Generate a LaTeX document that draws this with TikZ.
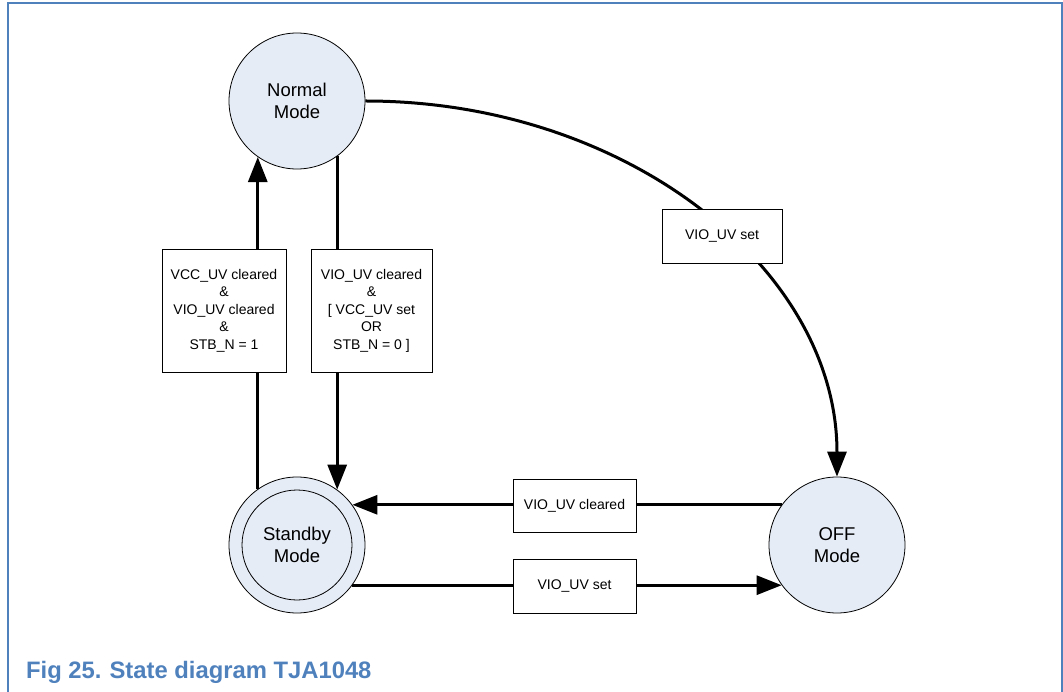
\documentclass[tikz,border=0pt]{standalone}
\usepackage{fontspec}
\setmainfont{Liberation Sans}
\usetikzlibrary{arrows.meta}

\definecolor{figblue}{RGB}{79,129,189}
\definecolor{statefill}{RGB}{230,236,246}

\tikzset{
  state/.style={circle, draw, line width=0.8pt, fill=statefill, minimum size=136pt,
    inner sep=0pt, align=center, font=\fontsize{18.5}{22.5}\selectfont},
  guard/.style={rectangle, draw, line width=0.8pt, fill=white, inner sep=0pt,
    align=center, font=\fontsize{14}{17.5}\selectfont},
  trans/.style={line width=3pt, -{Triangle[length=25pt,width=19pt]}}
}

\begin{document}
\begin{tikzpicture}[x=1pt, y=-1pt]
  \useasboundingbox (0,0) rectangle (1063,692);

  % Draw the frame
  \draw[figblue, line width=2pt] (8,692) -- (8,3) -- (1062,3) -- (1062,692);

  % Draw the states
  \node[state] (normal) at (297,101) {Normal\\Mode};
  \node[state] (standby) at (297,545) {Standby\\Mode};
  \draw[line width=0.8pt] (standby.center) circle (55);
  \node[state] (off) at (837,545) {OFF\\Mode};

  % Draw the transitions
  \draw[trans] (standby.125) -- (normal.235);
  \draw[trans] (normal.306) -- (standby.54);
  \draw[trans] (off.144) -- (standby.36);
  \draw[trans] (standby.324) -- (off.216);
  \draw[trans] (normal.east) .. controls +(261,0) and +(0,-208) .. (off.north);

  % Draw the guard boxes
  \node[guard, minimum width=124pt, minimum height=123pt] (toNormal) at (224,310.5)
    {VCC\_UV cleared\\\&\\VIO\_UV cleared\\\&\\STB\_N = 1};
  \node[guard, minimum width=121pt, minimum height=123pt] (toStandby) at (371.5,310.5)
    {VIO\_UV cleared\\\&\\{[} VCC\_UV set\\OR\\STB\_N = 0 ]};
  \node[guard, minimum width=123pt, minimum height=53pt] (offStandby) at (574.5,505.5)
    {VIO\_UV cleared};
  \node[guard, minimum width=123pt, minimum height=54pt] (standbyOff) at (574.5,586)
    {VIO\_UV set};
  \node[guard, minimum width=120pt, minimum height=54pt] (normalOff) at (722,236)
    {VIO\_UV set};

  % Caption
  \node[anchor=base west, inner sep=0pt, text=figblue,
    font=\fontsize{23.8}{28}\selectfont\bfseries] (caption) at (26,678)
    {Fig 25.\hspace{8pt}State diagram TJA1048};
\end{tikzpicture}
\end{document}
